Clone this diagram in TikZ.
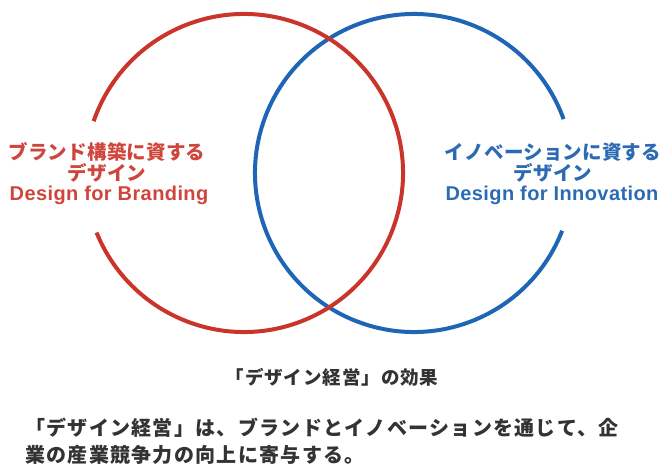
\documentclass[tikz,border=0pt]{standalone}
\usepackage{fontspec}
\setmainfont{Liberation Sans}
\newfontfamily\jp{Noto Sans CJK JP}
\newfontfamily\lat{Liberation Sans}
\definecolor{ringred}{HTML}{C9352B}
\definecolor{ringblue}{HTML}{1F65B6}
\definecolor{txtred}{HTML}{D0453B}
\definecolor{txtblue}{HTML}{2C6BB4}
\definecolor{txtgray}{HTML}{333333}
\begin{document}
\begin{tikzpicture}[x=1pt,y=-1pt,
  ring/.style={line width=4pt},
  jplbl/.style={inner sep=0pt, font=\jp\bfseries\addfontfeatures{LetterSpace=1}\fontsize{19.5}{21}\selectfont},
  latlbl/.style={inner sep=0pt, font=\lat\bfseries\addfontfeatures{LetterSpace=2}\fontsize{20}{22}\selectfont},
  titletxt/.style={inner sep=0pt, text=txtgray, font=\jp\bfseries\addfontfeatures{LetterSpace=5}\fontsize{18.5}{20}\selectfont},
  bodytxt/.style={inner sep=0pt, anchor=west, text=txtgray, font=\jp\bfseries\addfontfeatures{LetterSpace=6.5}\fontsize{20}{22}\selectfont}]
\useasboundingbox (0,0) rectangle (666,468);
\coordinate (rc) at (244,173);
\coordinate (bc) at (414,173);
\draw[ring, ringblue] (bc) ++(21.3:159) arc[start angle=21.3, end angle=340.2, radius=159];
\draw[ring, ringred] (rc) ++(199:159) arc[start angle=199, end angle=518, radius=159];
% left labels
\node[jplbl, text=txtred] (l1) at (107,152) {ブランド構築に資する};
\node[jplbl, text=txtred] (l2) at (107,173) {デザイン};
\node[latlbl, text=txtred] (l3) at (109,195) {Design for Branding};
% right labels
\node[jplbl, text=txtblue] (r1) at (553,152) {イノベーションに資する};
\node[jplbl, text=txtblue] (r2) at (553,173) {デザイン};
\node[latlbl, text=txtblue] (r3) at (552,195) {Design for Innovation};
% title and body
\node[titletxt] (t) at (332,377) {「デザイン経営」の効果};
\node[bodytxt] (b1) at (25,428) {「デザイン経営」は、ブランドとイノベーションを通じて、企};
\node[bodytxt] (b2) at (25,455) {業の産業競争力の向上に寄与する。};
\end{tikzpicture}
\end{document}
